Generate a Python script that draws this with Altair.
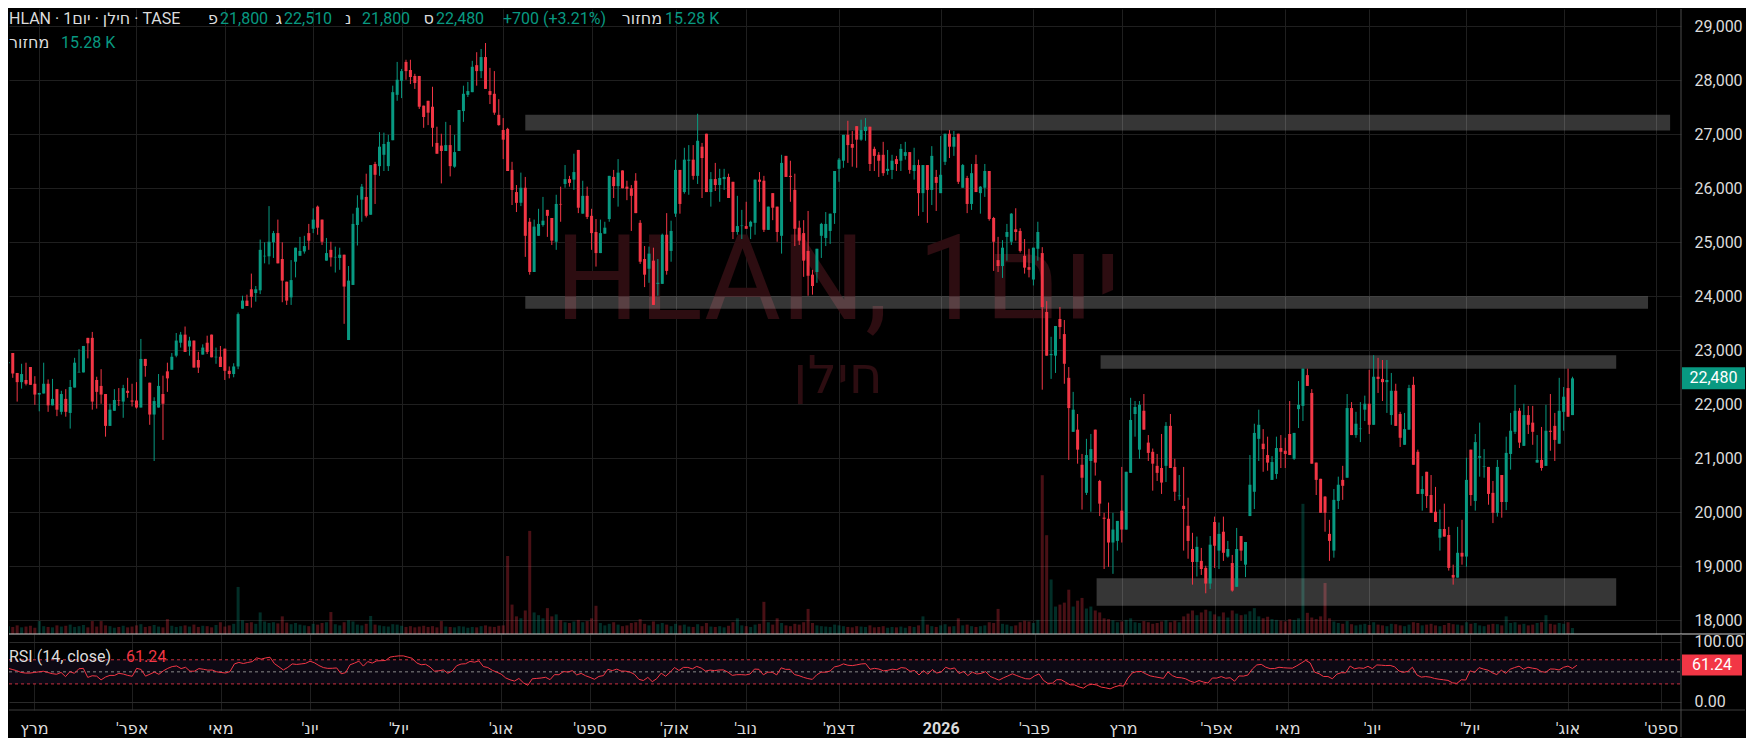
import altair as alt
import pandas as pd

# ---------------- data ----------------
O = [22760, 22950, 22580, 22410, 22450, 22690, 22380, 22180, 22200, 22380,
     21980, 22280, 21860, 22100, 21840, 22310, 22590, 22590, 23230, 23230,
     22450, 22340, 22190, 21600, 21880, 22080, 22050, 22250, 22070, 22070,
     21940, 22840, 22400, 21810, 21940, 22190, 22610, 22640, 22900, 23140,
     23290, 23070, 23180, 22820, 22920, 23140, 23290, 22870, 22880, 23030,
     22620, 22560, 22700, 23770, 23920, 24130, 24060, 24110, 24740, 24740,
     25000, 25170, 24690, 24270, 23980, 24640, 24750, 24830, 25170, 25250,
     25660, 25420, 24660, 24860, 24720, 24710, 24770, 23190, 24210, 25320,
     25790, 25840, 25510, 26450, 26410, 26620, 26410, 26890, 27730, 27990,
     28340, 28190, 28080, 28080, 27530, 27620, 27510, 26840, 26790, 26690,
     26800, 26400, 26690, 27430, 27730, 27780, 28280, 28170, 28430, 27800,
     27750, 27360, 27080, 27100, 26340, 25930, 25730, 26010, 25380, 24450,
     25120, 25320, 25600, 25450, 25010, 25710, 26080, 26170, 26160, 26710,
     25530, 25860, 25490, 25190, 24800, 25160, 25430, 26210, 26040, 26330,
     26030, 26000, 26140, 25360, 24690, 24510, 24660, 24230, 24230, 25140,
     24840, 25530, 26340, 25930, 26510, 26530, 26230, 26770, 27010, 25930,
     26170, 26060, 26170, 26210, 26120, 25190, 25300, 25300, 25290, 25360,
     26160, 26140, 25230, 25910, 25660, 25120, 26600, 26230, 25970, 25270,
     25170, 24840, 24400, 24450, 25120, 25080, 25210, 25540, 26360, 26510,
     26990, 26820, 27150, 26900, 27060, 27140, 26730, 26620, 26620, 26320,
     26340, 26540, 26510, 26600, 26670, 26320, 26430, 25910, 26430, 25970,
     26210, 25910, 26490, 27010, 26770, 27010, 26010, 26190, 25710, 26450,
     25910, 26010, 26320, 25450, 24670, 24560, 25100, 25010, 25240, 25210,
     24750, 24540, 24310, 24880, 24800, 23710, 22910, 22900, 23580, 23300,
     22490, 21490, 21530, 20880, 20360, 20950, 21530, 20580, 19900, 19880,
     19440, 19470, 20030, 19680, 20730, 21820, 21160, 21880, 21290, 21120,
     20860, 20820, 20860, 21600, 20840, 20300, 20120, 19750, 19320, 19080,
     19100, 18970, 18680, 19820, 19290, 19640, 19180, 19060, 18620, 19560,
     19030, 19930, 20380, 21360, 21270, 21060, 20600, 20710, 21190, 21140,
     21450, 20990, 21910, 21970, 22540, 22210, 20920, 20620, 20290, 19600,
     19290, 20210, 20600, 20640, 21930, 21430, 21540, 21900, 22010, 21620,
     22510, 22470, 22410, 21800, 22250, 21820, 21250, 21530, 22360, 21120,
     20340, 20750, 20320, 20010, 19530, 19690, 19580, 18840, 18790, 19250,
     19180, 21160, 20210, 21010, 20840, 20840, 20360, 19990, 20690, 20190,
     21080, 21490, 21880, 21230, 21800, 21660, 20920, 20970, 20860, 21510,
     21600, 21270, 21860, 22300, 21800]

H = [23020, 22950, 22580, 22750, 22770, 22690, 22520, 22210, 22770, 22460,
     22470, 22280, 22250, 22280, 22450, 22860, 23020, 23080, 23230, 23340,
     22510, 22650, 22190, 22010, 22280, 22300, 22360, 22490, 22380, 22410,
     23210, 22840, 22400, 22130, 22560, 22530, 22770, 22950, 23320, 23340,
     23440, 23250, 23180, 22970, 23110, 23270, 23290, 23050, 23080, 23030,
     22700, 22760, 23700, 24010, 24030, 24420, 24190, 25050, 25000, 25670,
     25210, 25420, 25000, 24270, 24670, 24900, 25100, 25120, 25340, 25630,
     25680, 25420, 25080, 25010, 24920, 24900, 24770, 24560, 25530, 25870,
     26080, 26270, 26430, 26490, 27040, 27030, 26990, 27900, 28340, 28210,
     28380, 28380, 28120, 28080, 27530, 27620, 27880, 27140, 27010, 27230,
     27170, 26990, 27450, 27900, 27970, 28360, 28520, 28580, 28690, 28230,
     28170, 27650, 27300, 27120, 26490, 26060, 26290, 26210, 25450, 25420,
     25620, 25840, 25600, 25450, 25880, 26030, 26430, 26230, 26640, 26710,
     26140, 26030, 25620, 25430, 25420, 25380, 26230, 26340, 26540, 26330,
     26140, 26060, 26280, 25410, 24930, 24920, 24900, 24690, 25160, 25540,
     25400, 26530, 26340, 26750, 26800, 26800, 27380, 26840, 27010, 26300,
     26470, 26360, 26360, 26270, 26120, 25860, 25600, 25750, 25400, 26160,
     26300, 26230, 25660, 25910, 25660, 26620, 26600, 26510, 26270, 25400,
     25410, 25580, 24490, 24880, 25360, 25560, 25530, 26320, 26560, 26990,
     27250, 27060, 27150, 27270, 27300, 27140, 26770, 26670, 26860, 26710,
     26620, 26600, 26820, 26860, 26670, 26750, 26530, 26430, 26430, 26780,
     26340, 26970, 27010, 27080, 27060, 27010, 26450, 26230, 26450, 26620,
     26040, 26450, 26320, 25470, 25100, 25040, 25340, 25540, 25630, 25260,
     25060, 24880, 24900, 25380, 24910, 23910, 23250, 23450, 23800, 23560,
     22690, 22230, 21820, 21080, 21360, 21450, 21530, 20600, 19990, 20180,
     19990, 19840, 20840, 20750, 22120, 22060, 22060, 22190, 21430, 21180,
     21080, 21450, 21670, 21820, 20990, 20690, 20840, 20270, 19620, 19550,
     19340, 19010, 19560, 19920, 19810, 19920, 19470, 19210, 19710, 19560,
     19450, 21060, 21640, 21900, 21540, 21400, 21040, 21400, 21430, 21380,
     22060, 21470, 22430, 22660, 22660, 22280, 20920, 20620, 20300, 19860,
     20430, 20660, 20860, 22190, 22040, 21860, 22040, 22160, 22640, 22910,
     22860, 22820, 22820, 22580, 22380, 21860, 21840, 22360, 22510, 21160,
     20670, 20750, 20690, 20470, 20050, 20160, 19730, 19030, 19730, 19860,
     21010, 21160, 21450, 21660, 21170, 20840, 20580, 20970, 20690, 21400,
     21840, 22360, 21930, 22010, 21970, 21970, 21430, 21580, 21990, 22190,
     21840, 22490, 22320, 22660, 22510]

L = [22490, 22490, 22050, 22290, 22350, 22360, 21990, 21870, 22200, 21860,
     21980, 21780, 21810, 21770, 21550, 22310, 22590, 22590, 22850, 21900,
     21920, 22010, 21400, 21600, 21880, 21970, 21750, 22120, 21960, 21920,
     21940, 22510, 21620, 20950, 21940, 21340, 22230, 22640, 22870, 23050,
     22970, 22900, 22680, 22580, 22920, 22930, 22870, 22750, 22690, 22450,
     22480, 22500, 22650, 23770, 23820, 23790, 23900, 24040, 24610, 24590,
     24710, 24610, 23890, 23840, 23840, 24350, 24750, 24790, 24860, 25170,
     25140, 24950, 24660, 24550, 24440, 24490, 23490, 23190, 24210, 24940,
     25380, 25460, 25510, 25710, 26230, 26320, 26320, 26890, 27620, 27670,
     28010, 27930, 27840, 27470, 27120, 27170, 26770, 26640, 26090, 26690,
     26220, 26380, 26690, 27230, 27690, 27780, 27900, 28040, 27840, 27560,
     27360, 27160, 26540, 26320, 25690, 25560, 25670, 24730, 24400, 24450,
     25120, 25290, 25100, 24950, 24860, 25380, 26010, 26030, 25970, 25540,
     25530, 25430, 24860, 24550, 24800, 25160, 25380, 25820, 25660, 26000,
     25780, 25210, 25540, 24600, 24170, 24250, 23840, 24010, 24230, 24400,
     24640, 25470, 25530, 25900, 25880, 26160, 26080, 25820, 25930, 25660,
     25950, 25750, 25970, 25820, 25060, 25140, 25060, 25250, 25060, 25140,
     25750, 25190, 25230, 25410, 25010, 24790, 26210, 25750, 24930, 24950,
     24360, 24010, 24030, 24250, 24710, 24930, 24970, 25340, 26120, 26380,
     26470, 26400, 26380, 26880, 26880, 26320, 26320, 26210, 26230, 26250,
     26170, 26320, 26320, 26530, 26270, 26160, 25490, 25560, 25360, 25690,
     25580, 25910, 26430, 26560, 26600, 26080, 26010, 25540, 25600, 25930,
     25530, 25840, 25400, 24470, 24450, 24340, 24660, 24950, 25030, 24810,
     24420, 24350, 24200, 24660, 22270, 22900, 22470, 22580, 23210, 22380,
     20970, 21490, 20900, 20050, 20320, 20010, 20680, 19930, 18950, 18990,
     18860, 19290, 19440, 19680, 20730, 21400, 20990, 21530, 20950, 20400,
     20580, 20340, 20560, 20820, 20210, 20230, 19290, 19140, 18660, 18810,
     18840, 18500, 18580, 18970, 18950, 19100, 19160, 18530, 18620, 19100,
     18800, 19930, 20060, 20950, 20750, 20770, 20600, 20620, 20820, 20820,
     21060, 20970, 21560, 21690, 22340, 20900, 20320, 19990, 19640, 19100,
     19160, 20060, 20230, 20640, 21430, 21380, 21300, 21690, 21450, 21620,
     22210, 22060, 21840, 21620, 21600, 21210, 21250, 21530, 20880, 20340,
     20030, 20080, 19990, 19820, 19290, 19550, 18920, 18660, 18790, 19030,
     18990, 20120, 20030, 20660, 20640, 20140, 19800, 19920, 19900, 20040,
     20790, 21450, 21190, 21230, 21450, 21250, 20920, 20770, 20860, 21140,
     20950, 21270, 21510, 21770, 21800]

C = [22780, 22570, 22410, 22560, 22380, 22360, 22180, 22210, 22380, 21980,
     22100, 21900, 22190, 21860, 22320, 22770, 22600, 23080, 23130, 22050,
     22230, 22180, 21600, 21900, 22080, 22070, 22300, 22210, 22050, 21940,
     22840, 22710, 21810, 22060, 22340, 22010, 22480, 22880, 23180, 23290,
     22970, 23180, 22680, 22680, 23050, 22970, 22870, 22880, 22690, 22620,
     22560, 22700, 23670, 23920, 23820, 23990, 24130, 24860, 24750, 25010,
     25170, 24610, 24290, 23920, 24300, 24900, 24840, 24930, 25030, 25420,
     25270, 25010, 24800, 24720, 24730, 24770, 24180, 24290, 25340, 25640,
     26030, 25490, 26430, 26250, 26770, 26820, 26860, 27780, 28010, 28170,
     28170, 28060, 27950, 27510, 27320, 27400, 27120, 26640, 26690, 26800,
     26410, 26670, 27450, 27750, 27800, 28250, 28170, 28430, 27840, 27730,
     27400, 27170, 26900, 26320, 25970, 25730, 26010, 25120, 24450, 25290,
     25340, 25400, 25490, 25030, 25710, 25700, 26170, 26100, 26300, 25640,
     25860, 25470, 25170, 24800, 25170, 25270, 26230, 26040, 26290, 26000,
     25990, 25860, 25540, 24640, 24400, 24790, 23840, 24250, 25140, 24470,
     25210, 26340, 25710, 26530, 26530, 26230, 26880, 26560, 25930, 26170,
     26060, 26190, 26210, 25820, 25190, 25300, 25310, 25250, 25380, 26160,
     26120, 25230, 25660, 25640, 25190, 26470, 26210, 26210, 25250, 25030,
     24660, 24380, 24190, 24880, 25340, 25340, 25530, 26320, 26530, 26990,
     26800, 26750, 26900, 27080, 27140, 26450, 26600, 26510, 26280, 26360,
     26510, 26450, 26730, 26670, 26340, 26430, 25910, 26430, 25970, 26600,
     26100, 26250, 27010, 26770, 26950, 26120, 26430, 25710, 26280, 25930,
     26030, 26320, 25430, 25010, 24560, 24900, 25190, 25530, 25190, 24840,
     24530, 24490, 24900, 25190, 23800, 22900, 22930, 23450, 23430, 22750,
     21930, 21900, 21160, 20640, 21060, 21170, 20920, 20160, 19880, 19440,
     19680, 19840, 19680, 20750, 21710, 21950, 21990, 21530, 21100, 20900,
     20730, 20550, 21600, 20820, 20380, 20310, 20060, 19470, 19080, 19360,
     18950, 18680, 19400, 19380, 19600, 19250, 19320, 18550, 19320, 19290,
     19450, 20510, 21470, 21620, 21170, 20920, 20930, 21190, 21120, 21080,
     21060, 21470, 21990, 22660, 22340, 20900, 20600, 19990, 19990, 19470,
     20230, 20510, 20490, 21930, 21430, 21640, 21550, 22010, 21620, 22510,
     22470, 22410, 22450, 22250, 21600, 21380, 21540, 22300, 20880, 20340,
     20430, 20300, 19990, 19820, 19690, 19550, 18970, 18790, 19250, 19180,
     20600, 20320, 21300, 21040, 20850, 20340, 19990, 20840, 20190, 21100,
     21510, 21880, 21290, 21800, 21620, 21490, 20970, 20820, 21510, 21490,
     21340, 21880, 22140, 21770, 22480]

VOL = [20, 18, 22, 17, 19, 21, 16, 33, 20, 18,
       17, 22, 19, 21, 24, 18, 20, 23, 17, 33,
       19, 33, 22, 20, 16, 18, 21, 17, 19, 22,
       25, 18, 20, 23, 19, 17, 38, 21, 18, 20,
       22, 19, 24, 18, 21, 20, 17, 23, 30, 19,
       22, 26, 120, 35, 28, 30, 26, 55, 32, 28,
       30, 27, 45, 29, 25, 28, 24, 22, 20, 26,
       24, 28, 30, 56, 25, 22, 30, 35, 32, 24,
       22, 26, 46, 24, 22, 20, 19, 25, 24, 21,
       18, 20, 17, 19, 21, 18, 20, 17, 33, 19,
       18, 17, 20, 19, 16, 18, 17, 20, 22, 19,
       18, 21, 22, 199, 75, 45, 40, 60, 263, 55,
       48, 40, 66, 45, 50, 35, 30, 28, 32, 36,
       30, 33, 40, 72, 28, 22, 26, 30, 24, 20,
       22, 28, 30, 38, 26, 22, 32, 25, 28, 24,
       20, 26, 22, 24, 19, 18, 25, 20, 28, 19,
       18, 20, 17, 21, 30, 40, 22, 20, 18, 24,
       26, 82, 30, 24, 40, 28, 22, 20, 26, 24,
       30, 64, 28, 22, 20, 19, 18, 24, 22, 20,
       18, 17, 20, 19, 18, 22, 17, 18, 20, 16,
       18, 17, 19, 16, 20, 18, 22, 45, 24, 20,
       18, 22, 25, 19, 20, 40, 22, 24, 20, 18,
       20, 22, 30, 28, 64, 26, 24, 20, 22, 30,
       34, 32, 28, 36, 405, 252, 139, 70, 75, 80,
       113, 70, 85, 92, 65, 70, 60, 55, 40, 38,
       35, 30, 32, 36, 40, 30, 28, 33, 30, 26,
       28, 32, 35, 30, 34, 30, 45, 52, 60, 48,
       55, 62, 58, 50, 45, 55, 42, 60, 52, 48,
       50, 58, 66, 45, 40, 44, 38, 36, 34, 32,
       38, 36, 40, 332, 54, 42, 38, 45, 130, 40,
       32, 28, 26, 33, 25, 22, 24, 26, 23, 30,
       24, 22, 20, 26, 25, 22, 20, 24, 30, 28,
       22, 24, 26, 22, 20, 23, 28, 25, 24, 22,
       30, 26, 28, 22, 20, 24, 26, 25, 22, 45,
       28, 30, 24, 26, 22, 24, 28, 30, 48, 26,
       24, 28, 26, 30, 15.28]

# RSI values for the first bars (before 14 bars of history exist)
RSI_HEAD = [57, 56, 54, 52, 49, 48, 48, 49, 50, 51, 49, 47, 46, 49]

MONTH_BAR = [7, 29, 49, 69, 89, 112, 132, 151, 167, 188, 211, 232, 252, 273, 289, 308, 330, 352, 373]
RLM = "\u200f"
MONTH_LABEL = ["מרץ", "אפר'" + RLM, "מאי", "יונ'" + RLM, "יול'" + RLM, "אוג'" + RLM, "ספט'" + RLM,
               "אוק'" + RLM, "נוב'" + RLM, "דצמ'" + RLM, "2026", "פבר'" + RLM, "מרץ", "אפר'" + RLM,
               "מאי", "יונ'" + RLM, "יול'" + RLM, "אוג'" + RLM, "ספט'" + RLM]

PRICE_TICKS = [18000, 19000, 20000, 21000, 22000, 23000, 24000, 25000, 26000, 27000, 28000, 29000]

ZONE_X0 = [117.0, 117.0, 247.2, 246.3]
ZONE_X1 = [376.1, 371.1, 363.9, 363.9]
ZONE_LO = [27070, 23770, 22660, 18270]
ZONE_HI = [27360, 24000, 22910, 18780]

RSI_LEVELS = [70, 50, 30]
LAST_CLOSE = [22480]
RSI_LAST = [61.24]

# ---------------- RSI(14) (Wilder) from the closes ----------------
n = len(C)
gains = [0.0] * n
losses = [0.0] * n
for k in range(1, n):
    d = C[k] - C[k - 1]
    gains[k] = max(d, 0)
    losses[k] = max(-d, 0)
rsi = list(RSI_HEAD) + [None] * (n - len(RSI_HEAD))
ag = sum(gains[1:15]) / 14
al = sum(losses[1:15]) / 14
rsi[14] = 100 - 100 / (1 + ag / al)
for k in range(15, n):
    ag = (ag * 13 + gains[k]) / 14
    al = (al * 13 + losses[k]) / 14
    rsi[k] = 100.0 if al == 0 else 100 - 100 / (1 + ag / al)

df = pd.DataFrame({"i": list(range(n)), "o": O, "h": H, "l": L, "c": C, "v": VOL, "rsi": rsi})

# ---------------- styling ----------------
BG = "#000000"
GREEN = "#089981"
RED = "#f23645"
GRID = "#1f1f1f"
TXT = "#dcdcdc"
WM = "#2d0d11"
FONT = "Roboto, 'DejaVu Sans', sans-serif"
W = 1672
H_PRICE = 625
H_RSI = 76

xs = alt.Scale(domain=[1.2823, 377.43], nice=False, zero=False)
ys = alt.Scale(domain=[17746, 29320], nice=False, zero=False)
vs = alt.Scale(domain=[0, 1594], nice=False, zero=True)
rs = alt.Scale(domain=[-13.27, 112.77], nice=False, zero=False)

x_axis = alt.Axis(values=MONTH_BAR, grid=True, gridColor=GRID, labels=False, ticks=False,
                  domain=False, title=None)
y_price_axis = alt.Axis(orient="right", values=PRICE_TICKS, labelExpr="format(datum.value, ',')",
                        grid=True, gridColor=GRID,
                        ticks=False, tickSize=0, domain=False, labelPadding=13, labelAlign="left",
                        labelBaseline="middle", labelColor=TXT, labelFont=FONT, labelFontSize=16,
                        labelOverlap=False, title=None)
y_rsi_axis = alt.Axis(orient="right", values=[0, 100], labelExpr="format(datum.value, '.2f')",
                      grid=True, gridColor="#2a2a2a",
                      ticks=False, tickSize=0, domain=False, labelPadding=13, labelAlign="left",
                      labelBaseline="middle", labelColor=TXT, labelFont=FONT, labelFontSize=16,
                      labelOverlap=False, title=None)

updown = alt.condition("datum.c >= datum.o", alt.value(GREEN), alt.value(RED))
X = alt.X("i:Q", scale=xs, axis=x_axis)
one = pd.DataFrame({"k": [0]})


def label(text, x, y, color, size=16, align="left", weight="normal", baseline="middle"):
    return alt.Chart(one).mark_text(text=text, font=FONT, fontSize=size, color=color, align=align,
                                    baseline=baseline, fontWeight=weight).encode(
        x=alt.value(x), y=alt.value(y))


base = alt.Chart(df)

# ---------------- price pane ----------------
volume = base.mark_bar(width=3, clip=True, opacity=0.3).encode(
    x=X, y=alt.Y("v:Q", scale=vs, axis=None), color=updown)

wm1 = label("HLAN, 1יום", 829, 310, WM, size=118, align="center", baseline="alphabetic")
wm2 = label("חילן", 829, 384, WM, size=52, align="center", baseline="alphabetic")

zone_df = pd.DataFrame({"x0": ZONE_X0, "x1": ZONE_X1, "lo": ZONE_LO, "hi": ZONE_HI})
zones = alt.Chart(zone_df).mark_rect(color="#ffffff", opacity=0.21, clip=True).encode(
    x=alt.X("x0:Q", scale=xs, axis=x_axis), x2="x1:Q",
    y=alt.Y("lo:Q", scale=ys, axis=y_price_axis), y2="hi:Q")

wicks = base.mark_rule(strokeWidth=1, clip=True).encode(
    x=X, y=alt.Y("l:Q", scale=ys, axis=y_price_axis), y2="h:Q", color=updown)
bodies = base.mark_bar(width=3, clip=True).encode(
    x=X, y=alt.Y("o:Q", scale=ys, axis=y_price_axis), y2="c:Q", color=updown)

LRM = "\u200e"
# (text, x, y, colour, align)
header = [
    ("HLAN · 1יום" + LRM + " · חילן" + LRM + " · TASE", 0, 10, TXT, "left"),
    ("פ", 209, 10, TXT, "right"), ("21,800", 211, 10, GREEN, "left"),
    ("ג", 273, 10, TXT, "right"), ("22,510", 275, 10, GREEN, "left"),
    ("נ", 336, 10, TXT, "left"), ("21,800", 353, 10, GREEN, "left"),
    ("ס", 425, 10, TXT, "right"), ("22,480", 427, 10, GREEN, "left"),
    ("+700 (+3.21%)", 494, 10, GREEN, "left"),
    ("מחזור", 653, 10, TXT, "right"), ("15.28 K", 656, 10, GREEN, "left"),
    ("מחזור", 0, 34, TXT, "left"), ("15.28 K", 52, 34, GREEN, "left"),
]
header_marks = [label(t, x, y, c, align=a) for (t, x, y, c, a) in header]

price_df = pd.DataFrame({"p": LAST_CLOSE})
price_box = alt.Chart(price_df).mark_point(
    shape="M-1,-0.349L1,-0.349L1,0.349L-1,0.349Z", size=3969, filled=True, fill=GREEN,
    opacity=1, strokeWidth=0).encode(x=alt.value(1704.5), y=alt.Y("p:Q", scale=ys, axis=y_price_axis))
price_txt = alt.Chart(price_df).mark_text(font=FONT, fontSize=16, color="#ffffff", align="center",
                                          baseline="middle").encode(
    x=alt.value(1704.5), y=alt.Y("p:Q", scale=ys, axis=y_price_axis), text=alt.Text("p:Q", format=","))

vsep_price = alt.Chart(one).mark_rule(color="#4a4a4a").encode(
    x=alt.value(W), y=alt.value(0), y2=alt.value(H_PRICE))

price_inner = alt.layer(wm1, wm2, zones, wicks, bodies, *header_marks, price_box, price_txt, vsep_price)
price = alt.layer(volume, price_inner).resolve_scale(y="independent").properties(width=W, height=H_PRICE)

# ---------------- RSI pane ----------------
band = alt.Chart(pd.DataFrame({"hi": [RSI_LEVELS[0]], "lo": [RSI_LEVELS[2]]})).mark_rect(
    color="#0d0914").encode(x=alt.value(0), x2=alt.value(W),
                            y=alt.Y("hi:Q", scale=rs, axis=y_rsi_axis), y2="lo:Q")
lev_df = pd.DataFrame({"lev": RSI_LEVELS, "col": ["#c8303f", "#8a8a8a", "#c8303f"]})
levels = alt.Chart(lev_df).mark_rule(strokeDash=[3, 3], strokeWidth=1).encode(
    x=alt.value(0), x2=alt.value(W), y=alt.Y("lev:Q", scale=rs, axis=y_rsi_axis),
    color=alt.Color("col:N", scale=None))
rsi_line = base.mark_line(color=RED, strokeWidth=1, clip=True).encode(
    x=X, y=alt.Y("rsi:Q", scale=rs, axis=y_rsi_axis))

month_df = pd.DataFrame({"i": MONTH_BAR, "lab": MONTH_LABEL})
months = alt.Chart(month_df).transform_filter("datum.lab != '2026'").mark_text(
    font=FONT, fontSize=16, color=TXT, baseline="middle", align="center").encode(
    x=alt.X("i:Q", scale=xs, axis=x_axis), y=alt.value(95), text="lab:N")
months_bold = alt.Chart(month_df).transform_filter("datum.lab == '2026'").mark_text(
    font=FONT, fontSize=16, color=TXT, baseline="middle", align="center", fontWeight="bold").encode(
    x=alt.X("i:Q", scale=xs, axis=x_axis), y=alt.value(95), text="lab:N")

rsi_title = label("RSI (14, close)", 0, 23, TXT)
rsi_val = label("61.24", 117, 23, RED)

rsi_df = pd.DataFrame({"r": RSI_LAST})
rsi_box = alt.Chart(rsi_df).mark_point(
    shape="M-1,-0.35L1,-0.35L1,0.35L-1,0.35Z", size=3600, filled=True, fill=RED,
    opacity=1, strokeWidth=0).encode(x=alt.value(1703), y=alt.Y("r:Q", scale=rs, axis=y_rsi_axis))
rsi_box_txt = alt.Chart(rsi_df).mark_text(font=FONT, fontSize=16, color="#ffffff", align="center",
                                          baseline="middle").encode(
    x=alt.value(1703), y=alt.Y("r:Q", scale=rs, axis=y_rsi_axis), text=alt.Text("r:Q", format=".2f"))

top_sep = alt.Chart(one).mark_rule(color="#d0d0d0", strokeWidth=1).encode(
    x=alt.value(0), x2=alt.value(1736), y=alt.value(0))
bot_sep = alt.Chart(one).mark_rule(color="#3c3c3c", strokeWidth=1).encode(
    x=alt.value(0), x2=alt.value(1736), y=alt.value(H_RSI))
vsep_rsi = alt.Chart(one).mark_rule(color="#4a4a4a").encode(
    x=alt.value(W), y=alt.value(0), y2=alt.value(103))

rsi_chart = alt.layer(band, levels, rsi_line, months, months_bold, rsi_title, rsi_val, rsi_box,
                      rsi_box_txt, top_sep, bot_sep, vsep_rsi).properties(width=W, height=H_RSI)

chart = alt.vconcat(price, rsi_chart, spacing=0, bounds="flush").properties(
    padding=0, background=BG).configure_view(stroke=None)

chart.save("out.html", embed_options={"renderer": "svg", "actions": False})
